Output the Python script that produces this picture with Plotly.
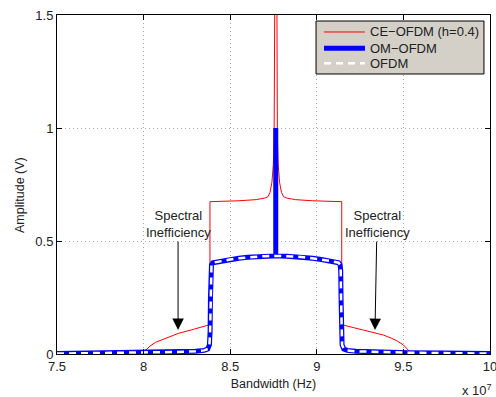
import plotly.graph_objects as go

# Frequencies in units of 1e7 Hz
ofdm_x = [7.50, 7.80, 8.00, 8.20, 8.30, 8.350, 8.370, 8.380, 8.384, 8.386, 8.388, 8.392,
          8.40, 8.45, 8.50, 8.55, 8.60, 8.65, 8.70, 8.763,
          8.826, 8.876, 8.926, 8.976, 9.026, 9.076, 9.126,
          9.134, 9.138, 9.140, 9.142, 9.146, 9.156, 9.176, 9.226, 9.326, 9.526, 9.726, 10.0]
ofdm_y = [0.002, 0.004, 0.006, 0.009, 0.012, 0.016, 0.022, 0.040, 0.100, 0.250, 0.370, 0.395,
          0.404, 0.412, 0.418, 0.424, 0.428, 0.431, 0.433, 0.434,
          0.433, 0.431, 0.428, 0.424, 0.418, 0.412, 0.404,
          0.395, 0.370, 0.250, 0.100, 0.040, 0.022, 0.016, 0.012, 0.009, 0.006, 0.004, 0.002]

om_x = [7.50, 7.80, 8.00, 8.20, 8.30, 8.350, 8.370, 8.380, 8.384, 8.386, 8.388, 8.392,
        8.40, 8.45, 8.50, 8.55, 8.60, 8.65, 8.70, 8.763, 8.763, 8.763,
        8.826, 8.876, 8.926, 8.976, 9.026, 9.076, 9.126,
        9.134, 9.138, 9.140, 9.142, 9.146, 9.156, 9.176, 9.226, 9.326, 9.526, 9.726, 10.0]
om_y = [0.002, 0.004, 0.006, 0.009, 0.012, 0.016, 0.022, 0.040, 0.100, 0.250, 0.370, 0.395,
        0.404, 0.412, 0.418, 0.424, 0.428, 0.431, 0.433, 0.434, 1.000, 0.434,
        0.433, 0.431, 0.428, 0.424, 0.418, 0.412, 0.404,
        0.395, 0.370, 0.250, 0.100, 0.040, 0.022, 0.016, 0.012, 0.009, 0.006, 0.004, 0.002]

ce_x = [7.50, 7.995, 8.005, 8.020, 8.037, 8.070, 8.114, 8.160, 8.200, 8.287, 8.374, 8.383,
        8.383, 8.45, 8.55, 8.65, 8.700, 8.718, 8.730, 8.741, 8.749, 8.7535, 8.7555, 8.7565,
        8.763,
        8.7695, 8.7705, 8.7725, 8.777, 8.785, 8.796, 8.808, 8.826, 8.876, 8.976, 9.076, 9.144,
        9.144, 9.153, 9.210, 9.269, 9.326, 9.384, 9.430, 9.461, 9.500, 9.515, 9.528, 9.540,
        9.560, 10.0]
ce_y = [0.000, 0.004, 0.012, 0.024, 0.035, 0.052, 0.065, 0.079, 0.091, 0.109, 0.128, 0.130,
        0.674, 0.675, 0.678, 0.683, 0.690, 0.696, 0.715, 0.760, 0.840, 0.950, 1.200, 1.600,
        2.500,
        1.600, 1.200, 0.950, 0.840, 0.760, 0.715, 0.696, 0.690, 0.683, 0.678, 0.675, 0.674,
        0.130, 0.128, 0.117, 0.106, 0.095, 0.084, 0.070, 0.059, 0.040, 0.028, 0.015, 0.008,
        0.005, 0.000]

x_ticks = [7.5, 8.0, 8.5, 9.0, 9.5, 10.0]
x_ticklabels = ["7.5", "8", "8.5", "9", "9.5", "10"]
y_ticks = [0, 0.5, 1.0, 1.5]
y_ticklabels = ["0", "0.5", "1", "1.5"]

series_names = ["CE\u2212OFDM (h=0.4)", "OM\u2212OFDM", "OFDM"]
series_styles = [dict(color="#ff0000", width=1),
                 dict(color="#0000ff", width=5),
                 dict(color="#ffffff", width=2.5, dash="7px,5px")]

note_left = (8.199, 0.106)
note_right = (9.336, 0.106)

FONT = "Liberation Sans, Arial, sans-serif"
TXT = "#222222"

fig = go.Figure()
for xs, ys, name, style in zip([ce_x, om_x, ofdm_x], [ce_y, om_y, ofdm_y],
                               series_names, series_styles):
    fig.add_trace(go.Scatter(x=xs, y=ys, mode="lines", name=name, line=style,
                             showlegend=False))

axis_common = dict(showline=True, linecolor="black", linewidth=1, mirror="ticks",
                   ticks="inside", ticklen=5, tickcolor="black", showgrid=True,
                   gridcolor="#a8a8a8", griddash="1px,3px", gridwidth=1, zeroline=False,
                   automargin=False,
                   tickfont=dict(family=FONT, size=13, color=TXT))

fig.update_xaxes(range=[7.5, 10.0], tickvals=x_ticks, ticktext=x_ticklabels,
                 ticklabeloverflow="allow",
                 title=dict(text="Bandwidth (Hz)", font=dict(family=FONT, size=12.5, color=TXT),
                            standoff=6),
                 **axis_common)
fig.update_yaxes(range=[0, 1.5], tickvals=y_ticks, ticktext=y_ticklabels, **axis_common)

# Legend box (MATLAB style), drawn in plot-domain coordinates
leg_x0, leg_x1, leg_y0, leg_y1 = 0.5982, 0.9861, 0.8260, 0.9823
leg_line_x0, leg_line_x1, leg_text_x = 0.6166, 0.7113, 0.7182
leg_rows = [0.9499, 0.9018, 0.8575]

shapes = [dict(type="rect", xref="x domain", yref="y domain", x0=leg_x0, x1=leg_x1,
               y0=leg_y0, y1=leg_y1, fillcolor="#d4d0c8", line=dict(color="black", width=1),
               layer="above")]
annotations = []
for row, name, style in zip(leg_rows, series_names, series_styles):
    shapes.append(dict(type="line", xref="x domain", yref="y domain", x0=leg_line_x0,
                       x1=leg_line_x1, y0=row, y1=row, line=style, layer="above"))
    annotations.append(dict(x=leg_text_x, y=row, xref="x domain", yref="y domain",
                            xanchor="left", yanchor="middle", text=name, showarrow=False,
                            font=dict(family=FONT, size=13, color=TXT)))

annotations += [
    dict(x=note_left[0], y=note_left[1], xref="x", yref="y", text="Spectral<br>Inefficiency",
         showarrow=True, arrowhead=2, arrowsize=2.3, arrowwidth=1, arrowcolor="black",
         ax=0, ay=-106, font=dict(family=FONT, size=13, color=TXT)),
    dict(x=note_right[0], y=note_right[1], xref="x", yref="y", text="Spectral<br>Inefficiency",
         showarrow=True, arrowhead=2, arrowsize=2.3, arrowwidth=1, arrowcolor="black",
         ax=2, ay=-106, font=dict(family=FONT, size=13, color=TXT)),
    dict(x=1.009, y=-0.105, xref="paper", yref="paper", xanchor="right", yanchor="middle",
         text="x 10<sup>7</sup>", showarrow=False, font=dict(family=FONT, size=13, color=TXT)),
    dict(x=-0.0855, y=0.469, xref="paper", yref="paper", xanchor="center", yanchor="middle",
         text="Amplitude (V)", textangle=-90, showarrow=False,
         font=dict(family=FONT, size=12.5, color=TXT)),
]

fig.update_layout(
    width=496, height=397,
    margin=dict(l=57, r=6, t=15, b=43, autoexpand=False),
    paper_bgcolor="white", plot_bgcolor="white",
    font=dict(family=FONT, size=13, color=TXT),
    showlegend=False,
    shapes=shapes,
    annotations=annotations,
)

fig.write_html("out.html")
